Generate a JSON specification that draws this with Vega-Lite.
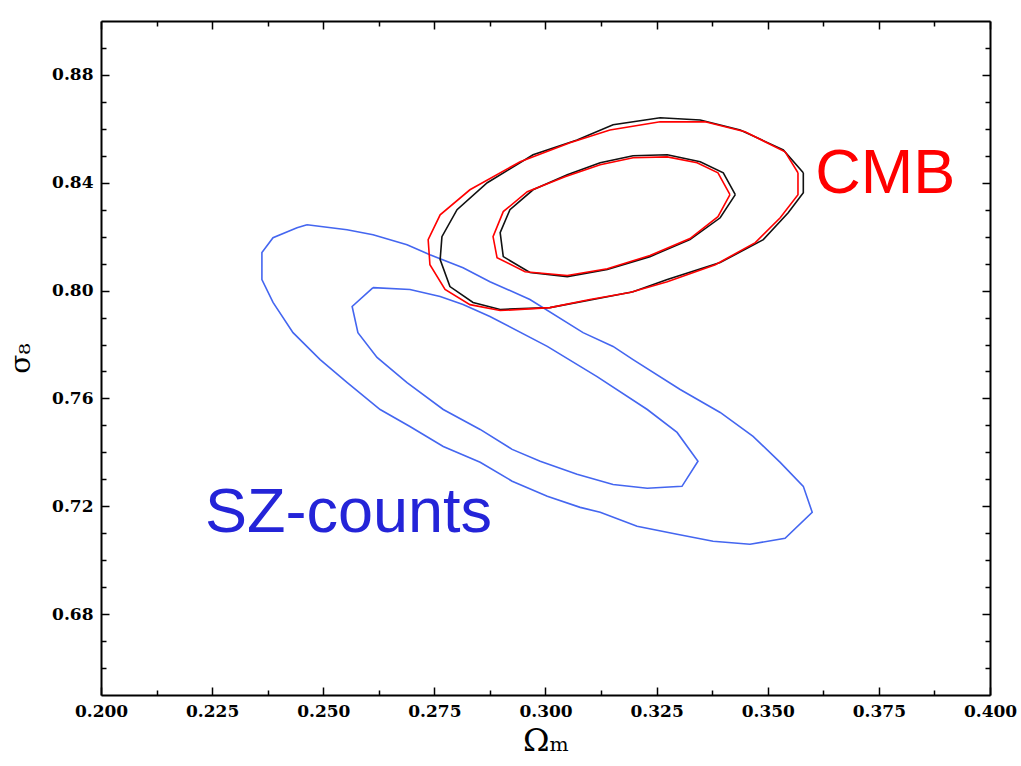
{
  "$schema": "https://vega.github.io/schema/vega-lite/v6.json",
  "width": 889,
  "height": 674,
  "autosize": "none",
  "padding": {"left": 101, "top": 21, "right": 31, "bottom": 71},
  "background": "white",
  "config": {
    "view": {"stroke": null},
    "axis": {
      "labelFont": "DejaVu Serif",
      "labelFontWeight": "bold",
      "labelFontSize": 17,
      "labelColor": "black",
      "labelFlush": false,
      "labelOverlap": false,
      "domainColor": "black",
      "domainWidth": 2,
      "tickColor": "black",
      "tickWidth": 1.5,
      "grid": false,
      "titleFont": "DejaVu Serif",
      "titleFontWeight": "normal",
      "titleColor": "black"
    }
  },
  "datasets": {
    "sz": [
      {"c": "b1", "i": 0, "x": 0.24635, "y": 0.8244},
      {"c": "b1", "i": 1, "x": 0.25535, "y": 0.8226},
      {"c": "b1", "i": 2, "x": 0.2612, "y": 0.8207},
      {"c": "b1", "i": 3, "x": 0.26885, "y": 0.8170},
      {"c": "b1", "i": 4, "x": 0.2740, "y": 0.8133},
      {"c": "b1", "i": 5, "x": 0.28145, "y": 0.8085},
      {"c": "b1", "i": 6, "x": 0.2875, "y": 0.8033},
      {"c": "b1", "i": 7, "x": 0.2965, "y": 0.7967},
      {"c": "b1", "i": 8, "x": 0.30845, "y": 0.7844},
      {"c": "b1", "i": 9, "x": 0.3152, "y": 0.7793},
      {"c": "b1", "i": 10, "x": 0.3197, "y": 0.7744},
      {"c": "b1", "i": 11, "x": 0.3303, "y": 0.7633},
      {"c": "b1", "i": 12, "x": 0.3393, "y": 0.7548},
      {"c": "b1", "i": 13, "x": 0.3467, "y": 0.7459},
      {"c": "b1", "i": 14, "x": 0.3528, "y": 0.7363},
      {"c": "b1", "i": 15, "x": 0.3580, "y": 0.7274},
      {"c": "b1", "i": 16, "x": 0.3600, "y": 0.7178},
      {"c": "b1", "i": 17, "x": 0.3539, "y": 0.7081},
      {"c": "b1", "i": 18, "x": 0.3460, "y": 0.7059},
      {"c": "b1", "i": 19, "x": 0.3377, "y": 0.7070},
      {"c": "b1", "i": 20, "x": 0.3296, "y": 0.7096},
      {"c": "b1", "i": 21, "x": 0.3206, "y": 0.7126},
      {"c": "b1", "i": 22, "x": 0.3123, "y": 0.7178},
      {"c": "b1", "i": 23, "x": 0.3078, "y": 0.7196},
      {"c": "b1", "i": 24, "x": 0.3004, "y": 0.7237},
      {"c": "b1", "i": 25, "x": 0.2925, "y": 0.7293},
      {"c": "b1", "i": 26, "x": 0.2853, "y": 0.7363},
      {"c": "b1", "i": 27, "x": 0.2770, "y": 0.7422},
      {"c": "b1", "i": 28, "x": 0.2695, "y": 0.7496},
      {"c": "b1", "i": 29, "x": 0.2628, "y": 0.7559},
      {"c": "b1", "i": 30, "x": 0.2554, "y": 0.7659},
      {"c": "b1", "i": 31, "x": 0.2493, "y": 0.7744},
      {"c": "b1", "i": 32, "x": 0.2432, "y": 0.7844},
      {"c": "b1", "i": 33, "x": 0.2387, "y": 0.7956},
      {"c": "b1", "i": 34, "x": 0.2362, "y": 0.8041},
      {"c": "b1", "i": 35, "x": 0.2362, "y": 0.8141},
      {"c": "b1", "i": 36, "x": 0.2387, "y": 0.8196},
      {"c": "b1", "i": 37, "x": 0.2441, "y": 0.8233},
      {"c": "b1", "i": 38, "x": 0.24635, "y": 0.8244},
      {"c": "b2", "i": 0, "x": 0.2612, "y": 0.8011},
      {"c": "b2", "i": 1, "x": 0.2695, "y": 0.8004},
      {"c": "b2", "i": 2, "x": 0.2763, "y": 0.7978},
      {"c": "b2", "i": 3, "x": 0.28145, "y": 0.7948},
      {"c": "b2", "i": 4, "x": 0.2875, "y": 0.7904},
      {"c": "b2", "i": 5, "x": 0.3004, "y": 0.7793},
      {"c": "b2", "i": 6, "x": 0.3116, "y": 0.7681},
      {"c": "b2", "i": 7, "x": 0.3229, "y": 0.7559},
      {"c": "b2", "i": 8, "x": 0.3296, "y": 0.7474},
      {"c": "b2", "i": 9, "x": 0.3343, "y": 0.7367},
      {"c": "b2", "i": 10, "x": 0.3307, "y": 0.7274},
      {"c": "b2", "i": 11, "x": 0.3229, "y": 0.7267},
      {"c": "b2", "i": 12, "x": 0.3152, "y": 0.7281},
      {"c": "b2", "i": 13, "x": 0.3071, "y": 0.7319},
      {"c": "b2", "i": 14, "x": 0.2988, "y": 0.7367},
      {"c": "b2", "i": 15, "x": 0.2925, "y": 0.7411},
      {"c": "b2", "i": 16, "x": 0.2853, "y": 0.7485},
      {"c": "b2", "i": 17, "x": 0.2770, "y": 0.7559},
      {"c": "b2", "i": 18, "x": 0.26885, "y": 0.7659},
      {"c": "b2", "i": 19, "x": 0.2621, "y": 0.7752},
      {"c": "b2", "i": 20, "x": 0.2578, "y": 0.7844},
      {"c": "b2", "i": 21, "x": 0.2565, "y": 0.7941},
      {"c": "b2", "i": 22, "x": 0.2612, "y": 0.8011}
    ],
    "black": [
      {"c": "k1", "i": 0, "x": 0.3580, "y": 0.8437},
      {"c": "k1", "i": 1, "x": 0.3580, "y": 0.8363},
      {"c": "k1", "i": 2, "x": 0.3546, "y": 0.8289},
      {"c": "k1", "i": 3, "x": 0.3490, "y": 0.8189},
      {"c": "k1", "i": 4, "x": 0.3393, "y": 0.8104},
      {"c": "k1", "i": 5, "x": 0.3274, "y": 0.8041},
      {"c": "k1", "i": 6, "x": 0.3197, "y": 0.7996},
      {"c": "k1", "i": 7, "x": 0.3107, "y": 0.7967},
      {"c": "k1", "i": 8, "x": 0.3010, "y": 0.7937},
      {"c": "k1", "i": 9, "x": 0.2898, "y": 0.7930},
      {"c": "k1", "i": 10, "x": 0.2837, "y": 0.7956},
      {"c": "k1", "i": 11, "x": 0.2785, "y": 0.8015},
      {"c": "k1", "i": 12, "x": 0.2763, "y": 0.8115},
      {"c": "k1", "i": 13, "x": 0.2767, "y": 0.8200},
      {"c": "k1", "i": 14, "x": 0.2801, "y": 0.8300},
      {"c": "k1", "i": 15, "x": 0.2869, "y": 0.8400},
      {"c": "k1", "i": 16, "x": 0.2972, "y": 0.8504},
      {"c": "k1", "i": 17, "x": 0.3071, "y": 0.8559},
      {"c": "k1", "i": 18, "x": 0.3152, "y": 0.8615},
      {"c": "k1", "i": 19, "x": 0.3258, "y": 0.8641},
      {"c": "k1", "i": 20, "x": 0.3348, "y": 0.8633},
      {"c": "k1", "i": 21, "x": 0.3438, "y": 0.8596},
      {"c": "k1", "i": 22, "x": 0.3535, "y": 0.8522},
      {"c": "k1", "i": 23, "x": 0.3580, "y": 0.8437},
      {"c": "k2", "i": 0, "x": 0.3427, "y": 0.8356},
      {"c": "k2", "i": 1, "x": 0.3400, "y": 0.8437},
      {"c": "k2", "i": 2, "x": 0.3348, "y": 0.8478},
      {"c": "k2", "i": 3, "x": 0.3274, "y": 0.8504},
      {"c": "k2", "i": 4, "x": 0.3197, "y": 0.8500},
      {"c": "k2", "i": 5, "x": 0.3123, "y": 0.8474},
      {"c": "k2", "i": 6, "x": 0.3049, "y": 0.8430},
      {"c": "k2", "i": 7, "x": 0.2972, "y": 0.8374},
      {"c": "k2", "i": 8, "x": 0.2920, "y": 0.8300},
      {"c": "k2", "i": 9, "x": 0.2898, "y": 0.8215},
      {"c": "k2", "i": 10, "x": 0.2905, "y": 0.8126},
      {"c": "k2", "i": 11, "x": 0.2965, "y": 0.8067},
      {"c": "k2", "i": 12, "x": 0.3049, "y": 0.8052},
      {"c": "k2", "i": 13, "x": 0.3139, "y": 0.8078},
      {"c": "k2", "i": 14, "x": 0.3235, "y": 0.8126},
      {"c": "k2", "i": 15, "x": 0.3325, "y": 0.8189},
      {"c": "k2", "i": 16, "x": 0.3393, "y": 0.8270},
      {"c": "k2", "i": 17, "x": 0.3427, "y": 0.8356}
    ],
    "red": [
      {"c": "r1", "i": 0, "x": 0.3568, "y": 0.8437},
      {"c": "r1", "i": 1, "x": 0.3568, "y": 0.8356},
      {"c": "r1", "i": 2, "x": 0.3528, "y": 0.8270},
      {"c": "r1", "i": 3, "x": 0.3472, "y": 0.8178},
      {"c": "r1", "i": 4, "x": 0.3382, "y": 0.8096},
      {"c": "r1", "i": 5, "x": 0.3274, "y": 0.8033},
      {"c": "r1", "i": 6, "x": 0.3190, "y": 0.7993},
      {"c": "r1", "i": 7, "x": 0.3100, "y": 0.7967},
      {"c": "r1", "i": 8, "x": 0.3010, "y": 0.7937},
      {"c": "r1", "i": 9, "x": 0.2898, "y": 0.7926},
      {"c": "r1", "i": 10, "x": 0.2830, "y": 0.7948},
      {"c": "r1", "i": 11, "x": 0.2774, "y": 0.8004},
      {"c": "r1", "i": 12, "x": 0.2740, "y": 0.8096},
      {"c": "r1", "i": 13, "x": 0.2736, "y": 0.8189},
      {"c": "r1", "i": 14, "x": 0.2763, "y": 0.8281},
      {"c": "r1", "i": 15, "x": 0.2830, "y": 0.8374},
      {"c": "r1", "i": 16, "x": 0.2943, "y": 0.8478},
      {"c": "r1", "i": 17, "x": 0.3055, "y": 0.8548},
      {"c": "r1", "i": 18, "x": 0.3145, "y": 0.8596},
      {"c": "r1", "i": 19, "x": 0.3258, "y": 0.8626},
      {"c": "r1", "i": 20, "x": 0.3359, "y": 0.8626},
      {"c": "r1", "i": 21, "x": 0.3449, "y": 0.8589},
      {"c": "r1", "i": 22, "x": 0.3539, "y": 0.8515},
      {"c": "r1", "i": 23, "x": 0.3568, "y": 0.8437},
      {"c": "r2", "i": 0, "x": 0.3415, "y": 0.8356},
      {"c": "r2", "i": 1, "x": 0.3388, "y": 0.8437},
      {"c": "r2", "i": 2, "x": 0.3341, "y": 0.8474},
      {"c": "r2", "i": 3, "x": 0.3274, "y": 0.8496},
      {"c": "r2", "i": 4, "x": 0.3197, "y": 0.8493},
      {"c": "r2", "i": 5, "x": 0.3123, "y": 0.8467},
      {"c": "r2", "i": 6, "x": 0.3044, "y": 0.8422},
      {"c": "r2", "i": 7, "x": 0.2959, "y": 0.8367},
      {"c": "r2", "i": 8, "x": 0.2905, "y": 0.8293},
      {"c": "r2", "i": 9, "x": 0.2882, "y": 0.8200},
      {"c": "r2", "i": 10, "x": 0.2891, "y": 0.8122},
      {"c": "r2", "i": 11, "x": 0.2954, "y": 0.8070},
      {"c": "r2", "i": 12, "x": 0.3049, "y": 0.8056},
      {"c": "r2", "i": 13, "x": 0.3139, "y": 0.8081},
      {"c": "r2", "i": 14, "x": 0.3235, "y": 0.8130},
      {"c": "r2", "i": 15, "x": 0.3325, "y": 0.8193},
      {"c": "r2", "i": 16, "x": 0.3388, "y": 0.8274},
      {"c": "r2", "i": 17, "x": 0.3415, "y": 0.8356}
    ],
    "labels": [
      {"t": "CMB", "x": 0.3607, "y": 0.8363},
      {"t": "SZ-counts", "x": 0.2234, "y": 0.7104}
    ]
  },
  "layer": [
    {
      "data": {"name": "sz"},
      "mark": {"type": "line", "color": "#4466f0", "strokeWidth": 1.6},
      "encoding": {
        "x": {"field": "x", "type": "quantitative", "scale": {"domain": [0.2, 0.4], "nice": false, "zero": false},
          "axis": {"orient": "bottom", "values": [0.2, 0.225, 0.25, 0.275, 0.3, 0.325, 0.35, 0.375, 0.4], "format": ".3f", "tickSize": -8, "labelPadding": 16, "title": "Ωₘ", "titleFontSize": 32, "titlePadding": 6}},
        "y": {"field": "y", "type": "quantitative", "scale": {"domain": [0.65, 0.9], "nice": false, "zero": false},
          "axis": {"orient": "left", "values": [0.68, 0.72, 0.76, 0.8, 0.84, 0.88], "format": ".2f", "tickSize": -8, "labelPadding": 16, "title": "σ₈", "titleFontSize": 28, "titlePadding": 16}},
        "detail": {"field": "c"},
        "order": {"field": "i", "type": "quantitative"}
      }
    },
    {
      "data": {"name": "black"},
      "mark": {"type": "line", "color": "#111111", "strokeWidth": 1.6},
      "encoding": {
        "x": {"field": "x", "type": "quantitative",
          "axis": {"orient": "bottom", "values": [0.2125, 0.2375, 0.2625, 0.2875, 0.3125, 0.3375, 0.3625, 0.3875], "tickSize": -5, "labels": false, "domain": false, "title": null}},
        "y": {"field": "y", "type": "quantitative",
          "axis": {"orient": "left", "values": [0.66, 0.67, 0.69, 0.7, 0.71, 0.73, 0.74, 0.75, 0.77, 0.78, 0.79, 0.81, 0.82, 0.83, 0.85, 0.86, 0.87, 0.89], "tickSize": -5, "labels": false, "domain": false, "title": null}},
        "detail": {"field": "c"},
        "order": {"field": "i", "type": "quantitative"}
      }
    },
    {
      "data": {"name": "red"},
      "mark": {"type": "line", "color": "#ff0000", "strokeWidth": 1.6},
      "encoding": {
        "x": {"field": "x", "type": "quantitative",
          "axis": {"orient": "top", "values": [0.2, 0.225, 0.25, 0.275, 0.3, 0.325, 0.35, 0.375, 0.4], "tickSize": -8, "labels": false, "title": null}},
        "y": {"field": "y", "type": "quantitative",
          "axis": {"orient": "right", "values": [0.68, 0.72, 0.76, 0.8, 0.84, 0.88], "tickSize": -8, "labels": false, "title": null}},
        "detail": {"field": "c"},
        "order": {"field": "i", "type": "quantitative"}
      }
    },
    {
      "data": {"name": "labels"},
      "mark": {"type": "text", "font": "Liberation Sans", "fontSize": 63, "align": "left", "baseline": "alphabetic"},
      "encoding": {
        "x": {"field": "x", "type": "quantitative",
          "axis": {"orient": "top", "values": [0.2125, 0.2375, 0.2625, 0.2875, 0.3125, 0.3375, 0.3625, 0.3875], "tickSize": -5, "labels": false, "domain": false, "title": null}},
        "y": {"field": "y", "type": "quantitative",
          "axis": {"orient": "right", "values": [0.66, 0.67, 0.69, 0.7, 0.71, 0.73, 0.74, 0.75, 0.77, 0.78, 0.79, 0.81, 0.82, 0.83, 0.85, 0.86, 0.87, 0.89], "tickSize": -5, "labels": false, "domain": false, "title": null}},
        "text": {"field": "t"},
        "color": {"field": "t", "type": "nominal", "scale": {"domain": ["CMB", "SZ-counts"], "range": ["#ff0000", "#2424d8"]}, "legend": null}
      }
    }
  ],
  "resolve": {"axis": {"x": "independent", "y": "independent"}}
}
